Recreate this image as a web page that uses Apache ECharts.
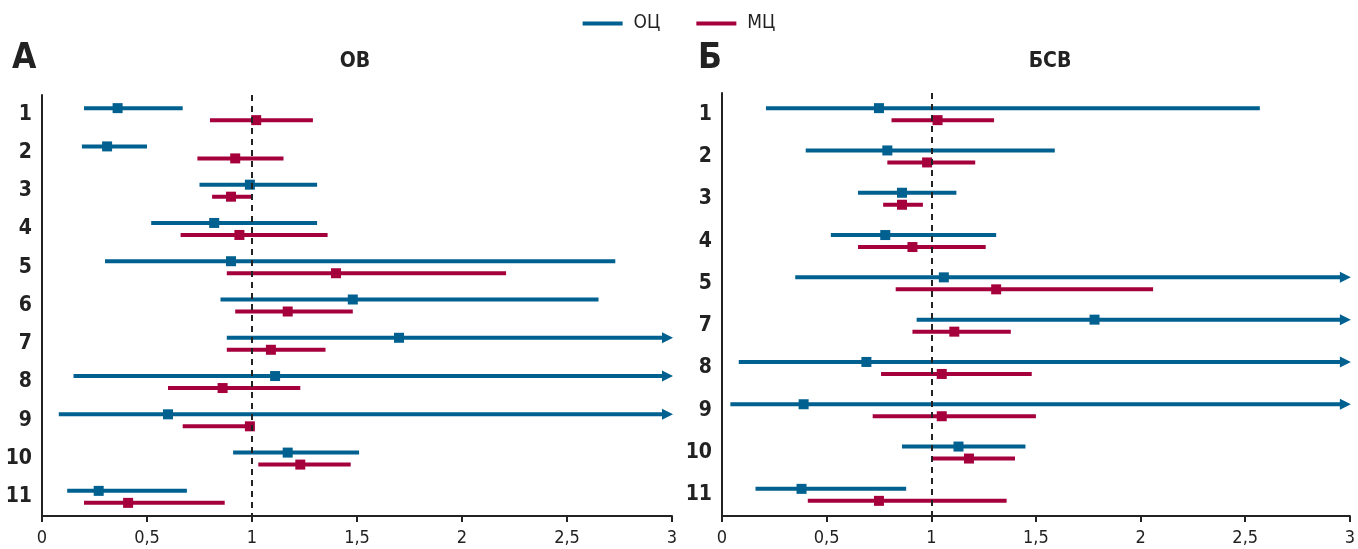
<!DOCTYPE html>
<html><head><meta charset="utf-8">
<script src="https://cdn.jsdelivr.net/npm/echarts@6/dist/echarts.min.js"></script>
<style>html,body{margin:0;padding:0;background:#fff}#c{width:1358px;height:549px}</style>
</head><body><div id="c"></div>
<script>
const FONT = "'Liberation Sans Narrow','DejaVu Sans Condensed',sans-serif";
const BLUE = '#00608f', RED = '#a5003c', INK = '#222';
const XMAX = 3;
const xTicks = ['0', '0,5', '1', '1,5', '2', '2,5', '3'];

// Panel A — ОВ (null upper bound = beyond axis, drawn as arrow)
const catsA = ['1','2','3','4','5','6','7','8','9','10','11'];
const ocEstA = [0.36, 0.31, 0.99, 0.82, 0.90, 1.48, 1.70, 1.11, 0.60, 1.17, 0.27];
const ocLoA  = [0.20, 0.19, 0.75, 0.52, 0.30, 0.85, 0.88, 0.15, 0.08, 0.91, 0.12];
const ocHiA  = [0.67, 0.50, 1.31, 1.31, 2.73, 2.65, null, null, null, 1.51, 0.69];
const mcEstA = [1.02, 0.92, 0.90, 0.94, 1.40, 1.17, 1.09, 0.86, 0.99, 1.23, 0.41];
const mcLoA  = [0.80, 0.74, 0.81, 0.66, 0.88, 0.92, 0.88, 0.60, 0.67, 1.03, 0.20];
const mcHiA  = [1.29, 1.15, 1.00, 1.36, 2.21, 1.48, 1.35, 1.23, 1.00, 1.47, 0.87];

// Panel Б — БСВ
const catsB = ['1','2','3','4','5','7','8','9','10','11'];
const ocEstB = [0.75, 0.79, 0.86, 0.78, 1.06, 1.78, 0.69, 0.39, 1.13, 0.38];
const ocLoB  = [0.21, 0.40, 0.65, 0.52, 0.35, 0.93, 0.08, 0.04, 0.86, 0.16];
const ocHiB  = [2.57, 1.59, 1.12, 1.31, null, null, null, null, 1.45, 0.88];
const mcEstB = [1.03, 0.98, 0.86, 0.91, 1.31, 1.11, 1.05, 1.05, 1.18, 0.75];
const mcLoB  = [0.81, 0.79, 0.77, 0.65, 0.83, 0.91, 0.76, 0.72, 1.00, 0.41];
const mcHiB  = [1.30, 1.21, 0.96, 1.26, 2.06, 1.38, 1.48, 1.50, 1.40, 1.36];

function build(lo, hi, est) {
  return est.map((e, i) => [i, lo[i], hi[i] == null ? XMAX : hi[i], e, hi[i] == null ? 1 : 0]);
}

function render(color, dir) {
  return function (params, api) {
    const yi = api.value(0);
    const p0 = api.coord([api.value(1), yi]);
    const p1 = api.coord([api.value(2), yi]);
    const pe = api.coord([api.value(3), yi]);
    const open = api.value(4) === 1;
    const y = p0[1] + dir * 6;
    const children = [{
      type: 'line',
      shape: { x1: p0[0], y1: y, x2: open ? p1[0] - 6 : p1[0], y2: y },
      style: { stroke: color, lineWidth: 4, lineCap: 'butt' }
    }];
    if (open) {
      children.push({
        type: 'polygon',
        shape: { points: [[p1[0] - 10, y - 5.5], [p1[0] + 1, y], [p1[0] - 10, y + 5.5]] },
        style: { fill: color }
      });
    }
    children.push({
      type: 'rect',
      shape: { x: pe[0] - 5, y: y - 5, width: 10, height: 10 },
      style: { fill: color }
    });
    return { type: 'group', children };
  };
}

const refLine = {
  silent: true, symbol: ['none', 'none'],
  label: { show: false },
  lineStyle: { type: [6, 5], color: INK, width: 2 },
  data: [{ xAxis: 1 }]
};

function xAxisCfg(gi) {
  return {
    gridIndex: gi, type: 'value', min: 0, max: XMAX, interval: 0.5,
    axisLine: { show: true, lineStyle: { color: INK, width: 2 } },
    axisTick: { show: true, length: 6, lineStyle: { color: INK, width: 2 } },
    splitLine: { show: false },
    axisLabel: { formatter: v => xTicks[Math.round(v / 0.5)], fontSize: 18, color: INK, fontFamily: FONT, margin: 13 }
  };
}
function yAxisCfg(gi, cats) {
  return {
    gridIndex: gi, type: 'category', data: cats, inverse: true,
    axisLine: { show: true, lineStyle: { color: INK, width: 2 } },
    axisTick: { show: false }, splitLine: { show: false },
    axisLabel: { fontSize: 21, fontWeight: 'bold', color: INK, fontFamily: FONT, margin: 10, padding: [4, 0, 0, 0] }
  };
}

const chart = echarts.init(document.getElementById('c'));
chart.setOption({
  animation: false,
  backgroundColor: '#fff',
  legend: {
    top: 9, left: 'center', itemWidth: 40, itemHeight: 4, itemGap: 36,
    textStyle: { fontSize: 19, color: INK, fontFamily: FONT, padding: [0, 0, 0, 6] },
    data: [
      { name: 'ОЦ', icon: 'rect', itemStyle: { color: BLUE } },
      { name: 'МЦ', icon: 'rect', itemStyle: { color: RED } }
    ]
  },
  graphic: [
    { type: 'text', x: 12, y: 59, style: { text: 'А', font: "bold 35px " + FONT, fill: INK, textVerticalAlign: 'middle' } },
    { type: 'text', x: 355, y: 62, style: { text: 'ОВ', font: "bold 21px " + FONT, fill: INK, textAlign: 'center', textVerticalAlign: 'middle' } },
    { type: 'text', x: 698, y: 59, style: { text: 'Б', font: "bold 35px " + FONT, fill: INK, textVerticalAlign: 'middle' } },
    { type: 'text', x: 1050, y: 62, style: { text: 'БСВ', font: "bold 21px " + FONT, fill: INK, textAlign: 'center', textVerticalAlign: 'middle' } }
  ],
  grid: [
    { left: 42, width: 630, top: 95, bottom: 33 },
    { left: 722, width: 630, top: 93, bottom: 33 }
  ],
  xAxis: [xAxisCfg(0), xAxisCfg(1)],
  yAxis: [yAxisCfg(0, catsA), yAxisCfg(1, catsB)],
  series: [
    { name: 'ОЦ', type: 'custom', xAxisIndex: 0, yAxisIndex: 0, itemStyle: { color: BLUE },
      renderItem: render(BLUE, -1), encode: { x: [1, 2, 3], y: 0 }, data: build(ocLoA, ocHiA, ocEstA), markLine: refLine, z: 3 },
    { name: 'МЦ', type: 'custom', xAxisIndex: 0, yAxisIndex: 0, itemStyle: { color: RED },
      renderItem: render(RED, 1), encode: { x: [1, 2, 3], y: 0 }, data: build(mcLoA, mcHiA, mcEstA), z: 3 },
    { name: 'ОЦ', type: 'custom', xAxisIndex: 1, yAxisIndex: 1, itemStyle: { color: BLUE },
      renderItem: render(BLUE, -1), encode: { x: [1, 2, 3], y: 0 }, data: build(ocLoB, ocHiB, ocEstB), markLine: refLine, z: 3 },
    { name: 'МЦ', type: 'custom', xAxisIndex: 1, yAxisIndex: 1, itemStyle: { color: RED },
      renderItem: render(RED, 1), encode: { x: [1, 2, 3], y: 0 }, data: build(mcLoB, mcHiB, mcEstB), z: 3 }
  ]
});
</script></body></html>
